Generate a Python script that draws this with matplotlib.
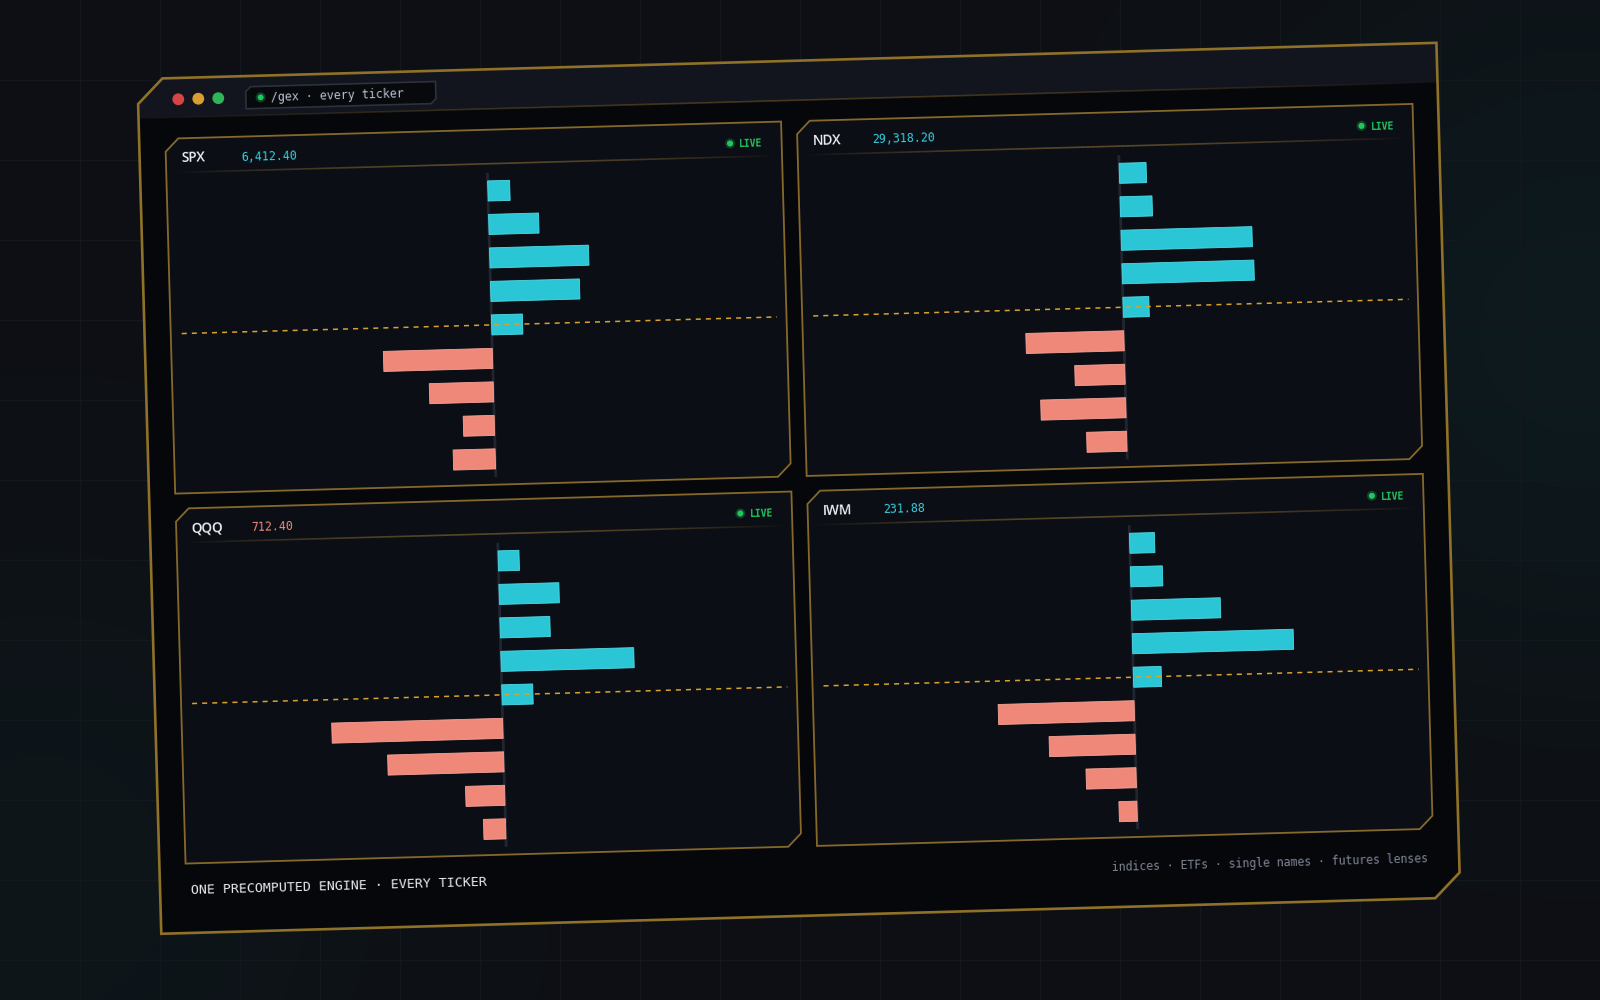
import matplotlib
matplotlib.use('Agg')
import matplotlib.pyplot as plt
import numpy as np
from matplotlib.transforms import Affine2D
from matplotlib.patches import Polygon, Circle
from matplotlib.collections import LineCollection

# ---- data -------------------------------------------------------------
tickers = ['SPX', 'NDX', 'QQQ', 'IWM']
prices = ['6,412.40', '29,318.20', '712.40', '231.88']
price_up = [True, True, False, True]
# net gamma exposure per strike row (top strike first), relative units
gex_spx = [0.22, 0.50, 0.99, 0.89, 0.31, -1.09, -0.64, -0.31, -0.42]
gex_ndx = [0.27, 0.32, 1.31, 1.32, 0.26, -0.98, -0.50, -0.85, -0.40]
gex_qqq = [0.21, 0.60, 0.50, 1.33, 0.31, -1.71, -1.16, -0.39, -0.22]
gex_iwm = [0.25, 0.32, 0.89, 1.61, 0.28, -1.36, -0.86, -0.50, -0.18]
gex_all = [gex_spx, gex_ndx, gex_qqq, gex_iwm]
strike_rows = np.arange(9)
spot_row = 4
x_range = (-3.10, 2.855)

title_text = '/gex \u00b7 every ticker'
footer_left = 'ONE PRECOMPUTED ENGINE \u00b7 EVERY TICKER'
footer_right = 'indices \u00b7 ETFs \u00b7 single names \u00b7 futures lenses'

# ---- style ------------------------------------------------------------
BG = '#0d0f14'
GOLD = '#8f7128'
PANEL_GOLD = '#86692a'
CYAN = '#2ac6d6'
SALMON = '#f0887a'
MONO = 'DejaVu Sans Mono'

# window geometry (unrotated canvas px) and tilt
CX, CY = 798.85, 488.3
ANGLE = 1.6
WX0, WY0, WX1, WY1 = 149.1, 60.8, 1448.6, 915.8
PW, PH = 616.0, 355.0
PANEL_X = [175.3, 807.0]
PANEL_Y = [121.2, 491.3]


def chamfer(x0, y0, x1, y1, c):
    return [(x0, y0 + c), (x0 + c, y0), (x1, y0), (x1, y1 - c), (x1 - c, y1), (x0, y1)]


def fade_line(ax, x0, x1, y, tr, color, peak=0.7, n=120):
    xs = np.linspace(x0, x1, n + 1)
    segs = [[(xs[i], y), (xs[i + 1], y)] for i in range(n)]
    t = (xs[:-1] + xs[1:]) / 2
    t = (t - x0) / (x1 - x0)
    rgba = np.array([matplotlib.colors.to_rgba(color)] * n)
    rgba[:, 3] = peak * np.sin(np.pi * t) ** 0.8
    ax.add_collection(LineCollection(segs, colors=rgba, linewidths=1.2, transform=tr, zorder=3))


def draw_panel(ax, tr, i):
    px = PANEL_X[i % 2]
    py = PANEL_Y[i // 2]
    ax.add_patch(Polygon(chamfer(px, py, px + PW, py + PH, 13), closed=True,
                         facecolor='#0b0e15', edgecolor=PANEL_GOLD, lw=1.3, transform=tr, zorder=2))
    # header
    ax.text(px + 15, py + 24, tickers[i], transform=tr, rotation=ANGLE, rotation_mode='anchor',
            ha='left', va='baseline', fontsize=9.8, fontweight='semibold',
            family=['Open Sans', 'DejaVu Sans'], color='#eef0f4', zorder=5)
    ax.text(px + 75, py + 24, prices[i], transform=tr, rotation=ANGLE, rotation_mode='anchor',
            ha='left', va='baseline', fontsize=8.4, family=MONO,
            color='#35d0e0' if price_up[i] else SALMON, zorder=5)
    ax.add_patch(Circle((px + PW - 51.6, py + 20.5), 4.5, color='#22c55e', alpha=0.18,
                        transform=tr, zorder=5))
    ax.add_patch(Circle((px + PW - 51.6, py + 20.5), 2.4, color='#22c55e',
                        transform=tr, zorder=6))
    ax.text(px + PW - 19, py + 24.5, 'LIVE', transform=tr, rotation=ANGLE, rotation_mode='anchor',
            ha='right', va='baseline', fontsize=7, fontweight='bold', family=MONO,
            color='#22c55e', zorder=5)
    fade_line(ax, px + 8, px + PW - 8, py + 34, tr, '#a8843a', peak=0.5)

    # chart: values -> 100 px per unit, strike rows -> 33.5 px
    pt = Affine2D().scale(100, 33.5).translate(px + 321, py + 61.2) + tr
    vals = gex_all[i]
    colors = [CYAN if v > 0 else SALMON for v in vals]
    edges = ['#4fdbe8' if v > 0 else '#f6a396' for v in vals]
    ax.barh(strike_rows, vals, height=0.6, color=colors, edgecolor=edges, linewidth=0.6,
            transform=pt, zorder=4)
    ax.plot([0, 0], [-0.5, 8.5], color='#20252f', lw=2.0, transform=pt, zorder=3.5)
    ax.plot(list(x_range), [spot_row, spot_row], color='#d9a22b', lw=1.1,
            ls=(0, (3.3, 3.3)), transform=pt, zorder=4.5)


def main():
    fig = plt.figure(figsize=(16, 10), dpi=100)
    fig.patch.set_facecolor(BG)
    ax = fig.add_axes([0, 0, 1, 1])

    # background glow + grid
    yy, xx = np.mgrid[0:1000:5, 0:1600:5]
    g1 = np.exp(-((xx - 1580) ** 2 + (yy - 330) ** 2) / (2 * 260 ** 2))
    g2 = np.exp(-((xx - 40) ** 2 + (yy - 880) ** 2) / (2 * 260 ** 2))
    glow = np.clip(0.4 * g1 + 0.25 * g2, 0, 1)[..., None]
    base = np.array([13, 15, 20]) / 255
    teal = np.array([14, 42, 44]) / 255
    ax.imshow(base + (teal - base) * glow, extent=(0, 1600, 1000, 0), zorder=0, interpolation='bilinear')
    for gx in range(80, 1600, 80):
        ax.axvline(gx, color='#13171e', lw=1, zorder=0.5)
    for gy in range(80, 1000, 80):
        ax.axhline(gy, color='#13171e', lw=1, zorder=0.5)

    rot = Affine2D().rotate_deg_around(CX, CY, -ANGLE)
    tr = rot + ax.transData

    # window body and title bar
    ax.add_patch(Polygon(chamfer(WX0, WY0, WX1, WY1, 25), closed=True, facecolor='#06070b',
                         edgecolor='none', transform=tr, zorder=1))
    bar_h = 39.5
    ax.add_patch(Polygon([(WX0, WY0 + 25), (WX0 + 25, WY0), (WX1, WY0), (WX1, WY0 + bar_h),
                          (WX0, WY0 + bar_h)], closed=True, facecolor='#12151e',
                         edgecolor='none', transform=tr, zorder=1.2))
    fade_line(ax, WX0 + 2, WX1 - 2, WY0 + bar_h, tr, '#8a6a28', peak=0.45)
    for x, c in zip([189.4, 209.4, 229.4], ['#d64545', '#d9a030', '#2fb457']):
        ax.add_patch(Circle((x, WY0 + 21.3), 5.2, color=c, transform=tr, zorder=3))
    ax.add_patch(Polygon(chamfer(257, 71.5, 447, 93.5, 5), closed=True, facecolor='#07090d',
                         edgecolor='#2c313c', lw=1.2, transform=tr, zorder=3))
    ax.add_patch(Circle((271.8, 82.5), 4.5, color='#22c55e', alpha=0.2, transform=tr, zorder=4))
    ax.add_patch(Circle((271.8, 82.5), 2.3, color='#22c55e', transform=tr, zorder=4))
    ax.text(282, 86.5, title_text, transform=tr, rotation=ANGLE, rotation_mode='anchor',
            ha='left', va='baseline', fontsize=8.4, family=MONO, color='#b9c0cc', zorder=4)

    for i in range(4):
        draw_panel(ax, tr, i)

    ax.text(179.6, 877.2, footer_left, transform=tr, rotation=ANGLE, rotation_mode='anchor',
            ha='left', va='baseline', fontsize=9.5, family=MONO, color='#e8eaef', zorder=5)
    ax.text(1417.6, 879.1, footer_right, transform=tr, rotation=ANGLE, rotation_mode='anchor',
            ha='right', va='baseline', fontsize=8.3, family=MONO, color='#7d8494', zorder=5)

    # window outline on top
    ax.add_patch(Polygon(chamfer(WX0, WY0, WX1, WY1, 25), closed=True, facecolor='none',
                         edgecolor=GOLD, lw=1.9, transform=tr, zorder=7))

    ax.set_xlim(0, 1600)
    ax.set_ylim(1000, 0)
    ax.axis('off')
    fig.savefig('out.png', dpi=100, facecolor=BG)


if __name__ == '__main__':
    main()
